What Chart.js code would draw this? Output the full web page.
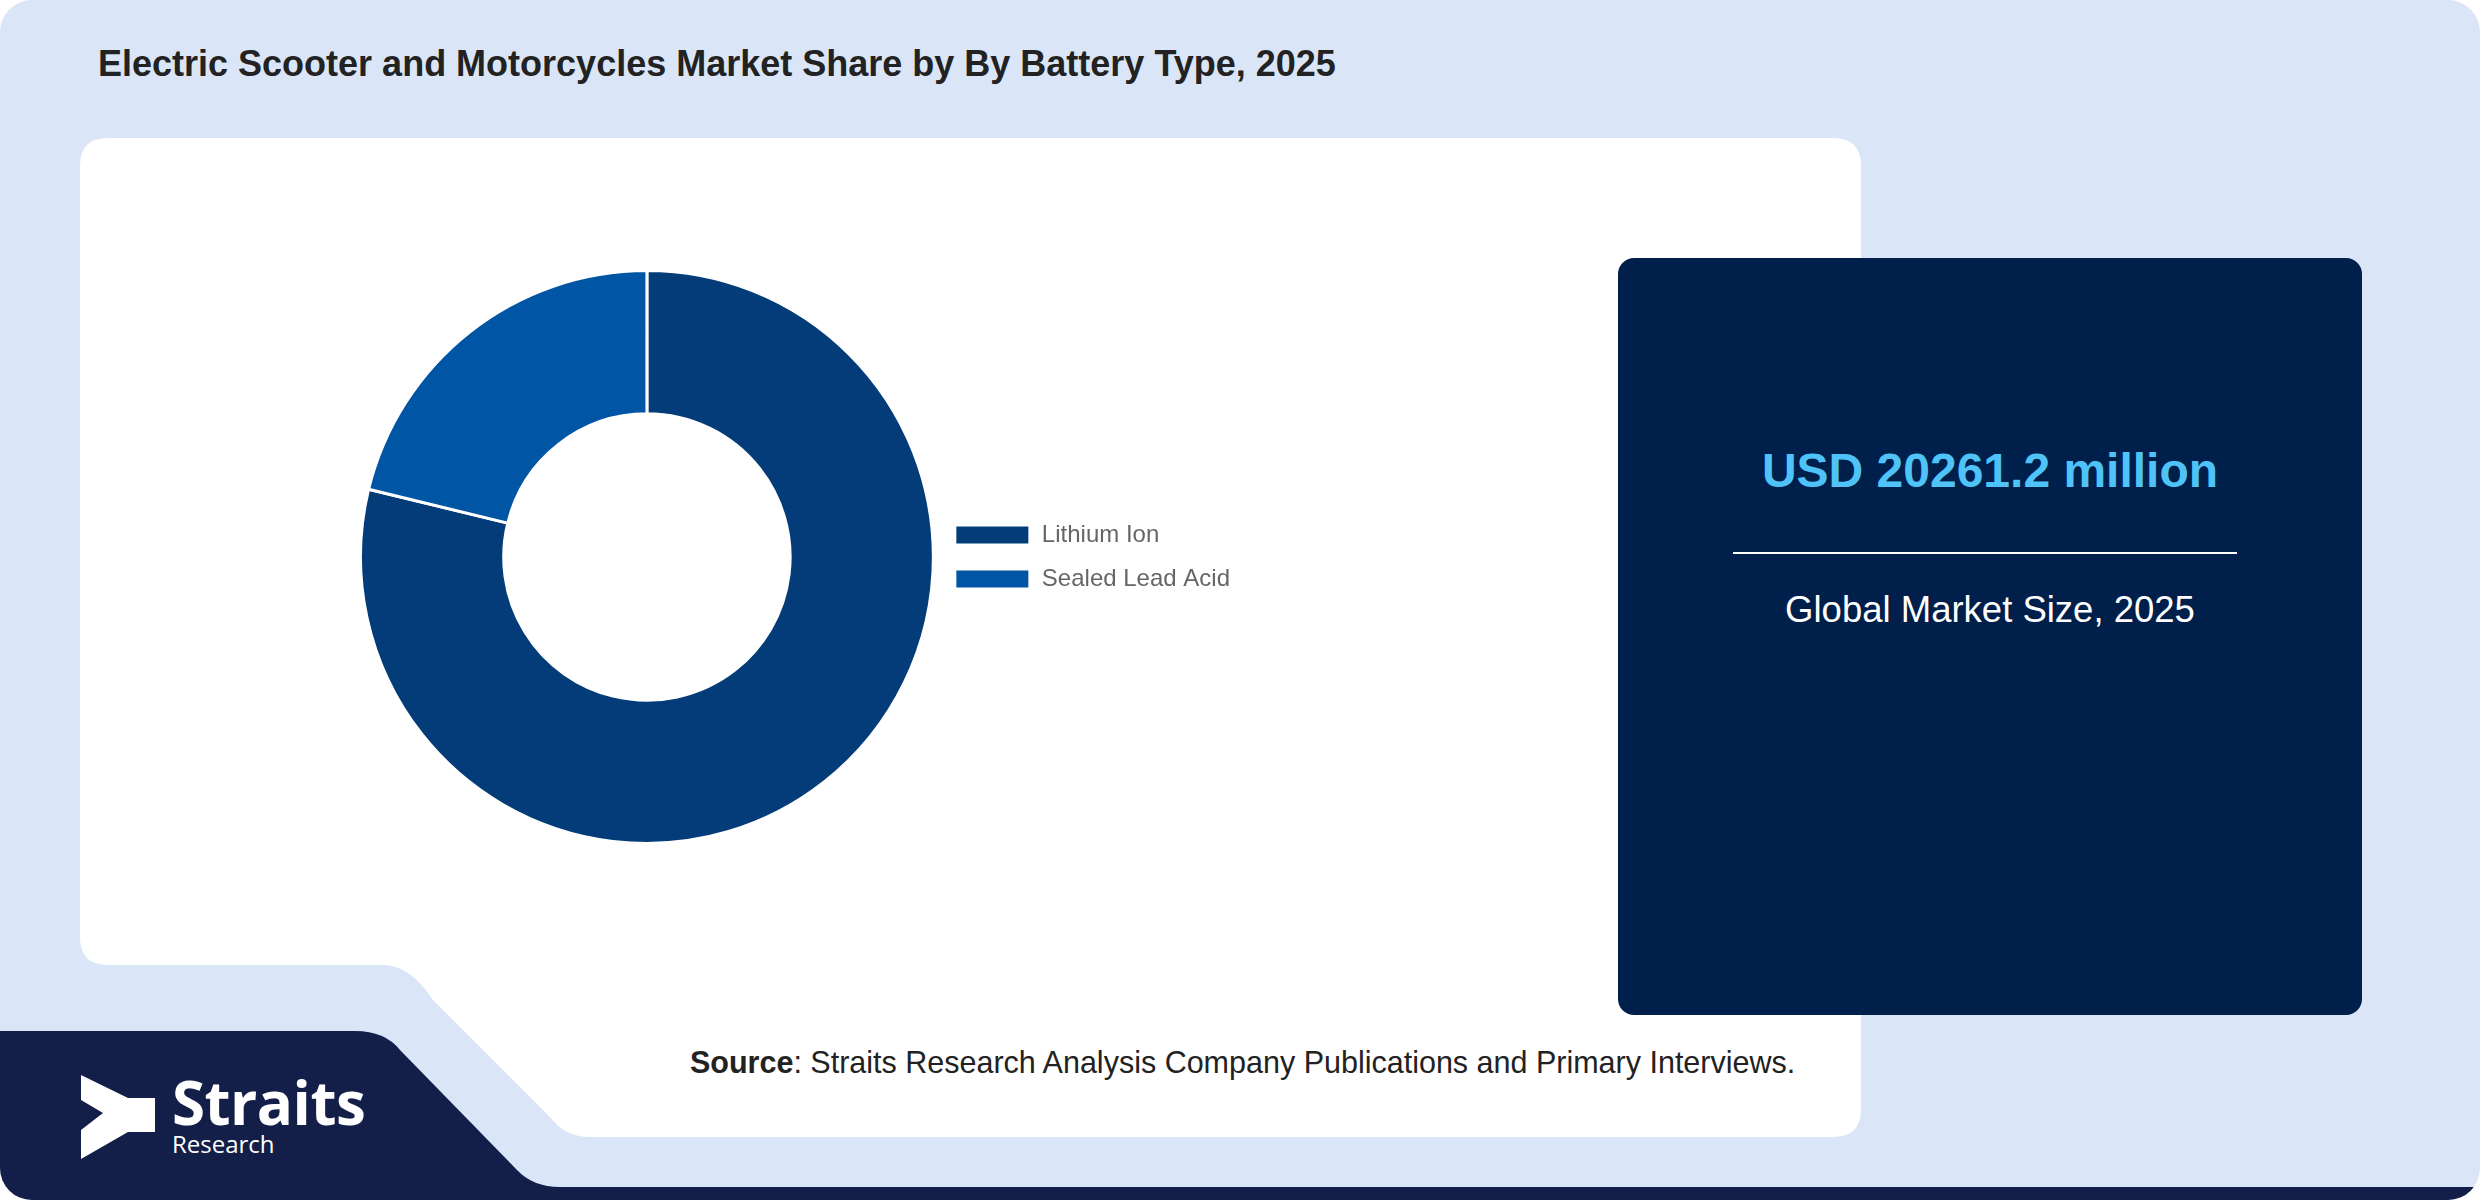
<!DOCTYPE html>
<html>
<head>
<meta charset="utf-8">
<title>Electric Scooter and Motorcycles Market Share by Battery Type</title>
<script src="https://cdn.jsdelivr.net/npm/chart.js@4.4.1/dist/chart.umd.min.js"></script>
<style>
  html, body { margin: 0; padding: 0; background: #ffffff; }
  body { width: 2480px; height: 1200px; position: relative; overflow: hidden;
         font-family: "Liberation Sans", Arial, sans-serif; line-height: 1; }
  #bg { position: absolute; left: 0; top: 0; }
  .title { position: absolute; left: 98px; top: 46px; font-size: 36px; font-weight: bold; color: #222222; white-space: nowrap; }
  #chartBox { position: absolute; left: 359px; top: 269px; width: 881px; height: 576px; }
  .kpi { position: absolute; left: 1618px; top: 258px; width: 744px; height: 757px;
         background: #001f4a; border-radius: 16px; color: #ffffff; text-align: center; }
  .source { position: absolute; left: 690px; top: 1047px; font-size: 30.5px; color: #222222; white-space: nowrap; }
  .logo-text { position: absolute; left: 172px; color: #ffffff; font-family: "Open Sans", sans-serif; white-space: nowrap; }
</style>
</head>
<body>

<svg id="bg" width="2480" height="1200" xmlns="http://www.w3.org/2000/svg">
  <defs>
    <clipPath id="page"><rect x="0" y="0" width="2480" height="1200" rx="32" ry="32"/></clipPath>
  </defs>
  <g clip-path="url(#page)">
    <!-- light blue card -->
    <rect x="0" y="0" width="2480" height="1200" fill="#dae6f8"/>
    <!-- navy logo band with diagonal edge and bottom strip -->
    <path d="M0,1031 H355 Q385,1031 400,1050 L517,1170 Q533,1187 560,1187 H2480 V1200 H0 Z" fill="#131f48"/>
    <!-- white chart panel with the notch at bottom left -->
    <path d="M108,138 H1833 Q1861,138 1861,166 V1109 Q1861,1137 1833,1137 H590 Q565,1137 550,1117 L433,1000 Q410,965 383,965 H108 Q80,965 80,937 V166 Q80,138 108,138 Z" fill="#ffffff"/>
    <!-- logo mark -->
    <polygon points="81,1075 128,1098 155,1098 155,1132 128,1132 81,1159 81,1130 103,1113 81,1100" fill="#ffffff"/>
  </g>
</svg>

<div class="title">Electric Scooter and Motorcycles Market Share by By Battery Type, 2025</div>

<div id="chartBox"><canvas id="shareChart"></canvas></div>

<div class="kpi">
  <div style="position:absolute;left:0;right:0;top:189px;font-size:48px;font-weight:bold;color:#4fc3f7;">USD 20261.2 million</div>
  <div style="position:absolute;left:115px;right:125px;top:294px;height:2px;background:#ffffff;"></div>
  <div style="position:absolute;left:0;right:0;top:334px;font-size:36.5px;">Global Market Size, 2025</div>
</div>

<div class="source"><b>Source</b>: Straits Research Analysis Company Publications and Primary Interviews.</div>

<div class="logo-text" style="top:1075px;font-size:60px;line-height:0.9;font-weight:bold;letter-spacing:-0.5px;">Straits</div>
<div class="logo-text" style="top:1133px;font-size:24px;line-height:0.9;">Research</div>

<script>
// ── Data ───────────────────────────────────────────────
const batteryTypes = ['Lithium Ion', 'Sealed Lead Acid'];
const shareValues  = [78.8, 21.2];
const sliceColors  = ['#033c78', '#0055a5'];

// ── Donut chart ────────────────────────────────────────
new Chart(document.getElementById('shareChart'), {
  type: 'doughnut',
  data: {
    labels: batteryTypes,
    datasets: [{
      data: shareValues,
      backgroundColor: sliceColors,
      borderColor: '#ffffff',
      borderWidth: 3,
    }]
  },
  options: {
    responsive: true,
    maintainAspectRatio: false,
    animation: false,
    cutout: '50%',
    layout: { padding: 0 },
    plugins: {
      tooltip: { enabled: false },
      legend: {
        position: 'right',
        labels: {
          boxWidth: 75,
          boxHeight: 20,
          padding: 20,
          color: '#666666',
          font: { family: '"Liberation Sans", Arial, sans-serif', size: 24 }
        }
      }
    }
  }
});
</script>
</body>
</html>
